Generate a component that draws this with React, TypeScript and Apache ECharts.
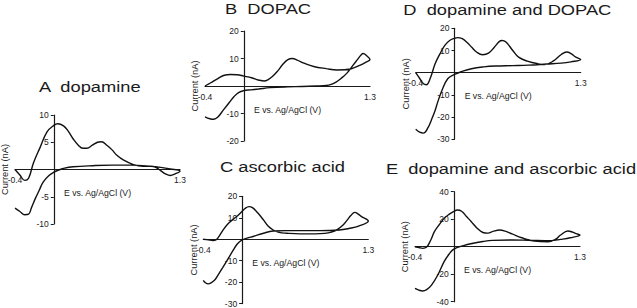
import React, { useEffect, useRef } from "react";
import * as echarts from "echarts";

// Cyclic voltammograms: [potential (V), current (nA)], forward scan then reverse scan
const dopamineCV: [number, number][] = [
  [-0.4, 0], [-0.35, -1.0], [-0.3, -2.0], [-0.26, -1.6], [-0.21, 1.2], [-0.14, 4.1], [-0.07, 6.9],
  [0.0, 8.1], [0.04, 8.4], [0.1, 8.0], [0.15, 7.0], [0.2, 5.6], [0.25, 4.5], [0.3, 3.9], [0.34, 3.9],
  [0.4, 4.5], [0.45, 5.0], [0.49, 5.1], [0.55, 4.4], [0.6, 3.6], [0.65, 2.6], [0.72, 1.7], [0.82, 0.9],
  [0.92, 0.6], [1.0, 0.6], [1.05, 0.4], [1.1, -0.2], [1.15, -0.8], [1.2, -1.1], [1.25, -0.8], [1.3, -0.3],
  [1.2, 0.1], [1.1, 0.4], [1.0, 0.6], [0.8, 0.8], [0.6, 0.8], [0.4, 0.7], [0.2, 0.5], [0.1, 0.2],
  [0.05, -0.1], [0.0, -0.5], [-0.05, -1.1], [-0.11, -2.3], [-0.15, -3.8], [-0.19, -5.3], [-0.23, -7.0],
  [-0.26, -8.2], [-0.3, -8.3], [-0.35, -7.7], [-0.4, -7.1],
];

const dopacCV: [number, number][] = [
  [-0.4, -11.2], [-0.35, -11.9], [-0.31, -12.1], [-0.27, -11.4], [-0.21, -8.7], [-0.15, -6.0], [-0.1, -3.8],
  [-0.05, -2.3], [0, -1.7], [0.07, -1.4], [0.15, -1.1], [0.27, -0.6], [0.45, -0.3], [0.6, -0.2], [0.75, 0.0],
  [0.85, 0.2], [0.9, 0.6], [0.95, 1.4], [1.0, 2.7], [1.06, 4.6], [1.12, 7.3], [1.17, 9.6], [1.21, 11.4],
  [1.23, 11.8], [1.26, 11.2], [1.3, 9.6],
  [1.25, 8.5], [1.2, 7.6], [1.1, 6.2], [0.96, 5.8], [0.85, 6.3], [0.72, 7.1], [0.62, 8.3], [0.55, 9.4],
  [0.5, 10.0], [0.45, 9.5], [0.4, 7.8], [0.35, 5.5], [0.3, 3.6], [0.25, 2.3], [0.21, 1.8], [0.15, 2.2],
  [0.08, 3.0], [0.0, 3.6], [-0.07, 4.1], [-0.14, 4.2], [-0.2, 3.9], [-0.26, 2.9], [-0.32, 1.6],
  [-0.36, 0.8], [-0.4, 0],
];

const ascorbicCV: [number, number][] = [
  [-0.4, 0], [-0.35, -0.3], [-0.3, -0.6], [-0.27, -0.3], [-0.24, 1.2], [-0.2, 4.0], [-0.15, 7.0],
  [-0.1, 9.0], [-0.05, 10.8], [-0.02, 12.1], [0.03, 14.3], [0.07, 15.2], [0.11, 14.6], [0.16, 12.3],
  [0.22, 9.0], [0.27, 6.0], [0.32, 4.3], [0.38, 3.2], [0.46, 2.8], [0.6, 2.5], [0.75, 2.5], [0.85, 2.7],
  [0.92, 3.3], [0.98, 4.5], [1.04, 6.6], [1.08, 8.8], [1.12, 11.0], [1.16, 12.5], [1.2, 11.6],
  [1.23, 10.5], [1.3, 8.5],
  [1.2, 6.1], [1.1, 5.0], [1.0, 4.3], [0.8, 4.0], [0.6, 4.0], [0.45, 4.0], [0.32, 3.8], [0.22, 2.8],
  [0.12, 1.4], [0.05, 0.5], [0, -0.3], [-0.05, -2.2], [-0.09, -5.0], [-0.15, -9.5], [-0.2, -13.2],
  [-0.25, -16.8], [-0.28, -18.9], [-0.32, -20.3], [-0.35, -20.8], [-0.38, -20.2], [-0.4, -19.2],
];

const dopamineDopacCV: [number, number][] = [
  [-0.4, 0], [-0.36, -2.5], [-0.32, -5.0], [-0.29, -5.4], [-0.25, -2.5], [-0.2, 4.0], [-0.15, 8.5],
  [-0.1, 12.3], [-0.05, 14.5], [0.0, 15.5], [0.03, 15.8], [0.08, 15.3], [0.13, 13.6], [0.18, 11.3],
  [0.23, 9.2], [0.29, 8.1], [0.35, 8.8], [0.41, 11.5], [0.46, 14.0], [0.49, 14.5], [0.53, 13.8],
  [0.6, 10.0], [0.66, 7.0], [0.75, 5.2], [0.86, 4.0], [0.93, 3.7], [1.02, 5.3], [1.1, 8.2], [1.155, 9.3],
  [1.2, 8.6], [1.25, 7.0], [1.3, 5.9],
  [1.2, 4.9], [1.1, 4.3], [0.95, 3.9], [0.76, 3.4], [0.6, 3.2], [0.42, 3.0], [0.3, 2.6], [0.175, 1.8],
  [0.08, 0.6], [0, -0.8], [-0.07, -2.7], [-0.13, -8.0], [-0.17, -12.8], [-0.2, -17.0], [-0.24, -21.5],
  [-0.27, -24.5], [-0.32, -27.2], [-0.36, -26.8], [-0.4, -25.5],
];

const dopamineAscorbicCV: [number, number][] = [
  [-0.4, 0], [-0.36, -0.6], [-0.32, -1.2], [-0.28, -0.3], [-0.24, 4.5], [-0.2, 10.9], [-0.15, 16.0],
  [-0.1, 20.6], [-0.05, 23.5], [0.0, 25.6], [0.035, 26.7], [0.08, 25.8], [0.13, 22.0], [0.18, 18.2],
  [0.24, 13.5], [0.3, 10.3], [0.35, 9.9], [0.41, 11.3], [0.47, 12.1], [0.53, 11.3], [0.6, 9.3],
  [0.7, 6.5], [0.83, 4.1], [0.97, 3.6], [1.05, 5.5], [1.1, 8.5], [1.175, 11.4], [1.22, 10.7],
  [1.26, 9.5], [1.3, 8.5],
  [1.2, 6.5], [1.1, 5.3], [1.0, 4.4], [0.8, 4.6], [0.6, 4.9], [0.4, 4.6], [0.3, 3.8], [0.2, 2.5],
  [0.1, 0.8], [0, -1.7], [-0.05, -5.5], [-0.1, -10.9], [-0.165, -20.6], [-0.23, -27.9], [-0.28, -31.2],
  [-0.32, -32.2], [-0.36, -31.6], [-0.4, -30.3],
];

const potentialRange: [number, number] = [-0.4, 1.3];
const potentialTicks = [-0.4, 1.3];
const titles = ["A  dopamine", "B  DOPAC", "C ascorbic acid", "D  dopamine and DOPAC", "E  dopamine and ascorbic acid"];
const yRanges: [number, number, number][] = [
  [-10, 10, 5],
  [-20, 20, 10],
  [-30, 20, 10],
  [-30, 20, 10],
  [-40, 40, 20],
];
const xAxisName = "E vs. Ag/AgCl (V)";
const yAxisName = "Current (nA)";

const FONT = '"Liberation Sans", Arial, Helvetica, sans-serif';
const INK = "#1a1a1a";

const panelData = [dopamineCV, dopacCV, ascorbicCV, dopamineDopacCV, dopamineAscorbicCV];
const gridLayout = [
  { left: 15, top: 115, width: 165, height: 109 },
  { left: 205, top: 31, width: 165, height: 110 },
  { left: 203.3, top: 196.3, width: 165, height: 107.3 },
  { left: 415.7, top: 28.3, width: 165, height: 111 },
  { left: 415, top: 191.7, width: 165, height: 110 },
];
const titleLayout = [
  [39, 86.6],
  [225, 9.5],
  [220, 167],
  [403.3, 10.3],
  [386, 169.3],
];

export default function App() {
  const ref = useRef<HTMLDivElement>(null);
  useEffect(() => {
    if (!ref.current) return;
    const chart = echarts.init(ref.current, undefined, { renderer: "svg" });
    const [xMin, xMax] = potentialRange;
    const option: any = {
      animation: false,
      backgroundColor: "#ffffff",
      grid: gridLayout.map((g) => ({ ...g, containLabel: false, outerBoundsMode: "none" })),
      xAxis: gridLayout.map((g, i) => {
        const [yMin, yMax] = yRanges[i];
        // place the potential axis at zero current
        const off = -g.height * ((0 - yMin) / (yMax - yMin));
        return {
          type: "value",
          gridIndex: i,
          position: "bottom",
          offset: off,
          min: xMin,
          max: xMax,
          axisLine: { onZero: false, lineStyle: { color: INK, width: 1.2 } },
          axisTick: { show: false },
          splitLine: { show: false },
          axisLabel: {
            customValues: potentialTicks,
            formatter: (v: number) => String(v),
            color: INK,
            fontSize: 8.5,
            fontFamily: FONT,
            margin: 6,
          },
          name: xAxisName,
          nameLocation: "middle",
          nameGap: 19,
          nameTextStyle: { color: INK, fontSize: 8.7, fontFamily: FONT },
        };
      }),
      yAxis: yRanges.map(([min, max, step], i) => {
        const g = gridLayout[i];
        // place the current axis at zero potential
        const off = -g.width * ((0 - xMin) / (xMax - xMin));
        return {
          type: "value",
          gridIndex: i,
          position: "left",
          offset: off,
          min,
          max,
          interval: step,
          axisLine: { onZero: false, lineStyle: { color: INK, width: 1.2 } },
          axisTick: { show: true, length: 3, lineStyle: { color: INK } },
          splitLine: { show: false },
          axisLabel: {
            formatter: (v: number) => (v === 0 ? "" : String(v)),
            color: INK,
            fontSize: 8.5,
            fontFamily: FONT,
            margin: 5,
          },
          name: yAxisName,
          nameLocation: "middle",
          nameGap: 44,
          nameTextStyle: { color: INK, fontSize: 9.3, fontFamily: FONT },
        };
      }),
      series: panelData.map((d, i) => ({
        type: "line",
        xAxisIndex: i,
        yAxisIndex: i,
        data: d,
        smooth: 0.4,
        showSymbol: false,
        symbol: "none",
        silent: true,
        clip: false,
        lineStyle: { color: "#111", width: 1.4 },
      })),
      graphic: titles.map((t, i) => ({
        type: "text",
        x: titleLayout[i][0],
        y: titleLayout[i][1],
        scaleX: 1.22,
        silent: true,
        style: {
          text: t,
          font: `15px ${FONT}`,
          fill: INK,
          align: "left",
          verticalAlign: "middle",
        },
      })),
    };
    chart.setOption(option);
    return () => chart.dispose();
  }, []);
  return (
    <div
      ref={ref}
      style={{ position: "fixed", left: 0, top: 0, width: 637, height: 308, background: "#fff" }}
    />
  );
}
